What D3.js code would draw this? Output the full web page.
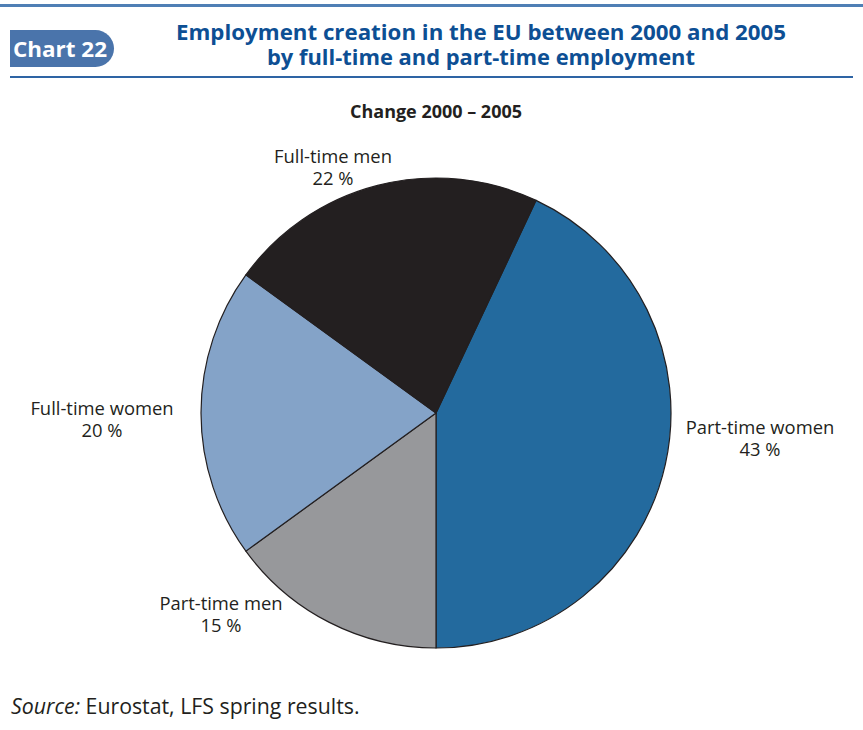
<!DOCTYPE html>
<html>
<head>
<meta charset="utf-8">
<script src="https://cdn.jsdelivr.net/npm/d3@7"></script>
<style>
  html, body { margin: 0; padding: 0; background: #fff; }
  svg { display: block; }
</style>
</head>
<body>
<svg id="chart" width="863" height="730"></svg>
<script>
// Share of employment creation, 2000–2005
const categories = ["Part-time women", "Part-time men", "Full-time women", "Full-time men"];
const values = [43, 15, 20, 22];
const colors = ["#236a9e", "#97989b", "#84a3c8", "#231f20"];

const font = "'Open Sans', 'DejaVu Sans', sans-serif";
const svg = d3.select("#chart");

// Header rules
svg.append("rect").attr("x", 0).attr("y", 4).attr("width", 863).attr("height", 3).attr("fill", "#4f7fb5");
svg.append("rect").attr("x", 10).attr("y", 76).attr("width", 843).attr("height", 2).attr("fill", "#2e64a4");

// "Chart 22" badge with rounded right end
const bx = 10, by = 30, bw = 104, bh = 37, br = 18.5;
svg.append("path")
  .attr("d", `M${bx},${by} H${bx + bw - br} A${br},${br} 0 0 1 ${bx + bw - br},${by + bh} H${bx} Z`)
  .attr("fill", "#4a74ab");
svg.append("text").attr("x", 13).attr("y", 56.5)
  .attr("font-family", font).attr("font-weight", 700).attr("font-size", 22)
  .attr("fill", "#fff").attr("textLength", 94).attr("lengthAdjust", "spacingAndGlyphs").text("Chart 22");

// Title
const title = svg.append("g").attr("text-anchor", "middle")
  .attr("font-family", font).attr("font-weight", 700).attr("font-size", 21).attr("fill", "#0d4f94");
title.append("text").attr("x", 481).attr("y", 40).attr("textLength", 610).attr("lengthAdjust", "spacingAndGlyphs")
  .text("Employment creation in the EU between 2000 and 2005");
title.append("text").attr("x", 481).attr("y", 65).attr("textLength", 428).attr("lengthAdjust", "spacingAndGlyphs")
  .text("by full-time and part-time employment");

// Subtitle
svg.append("text").attr("x", 436).attr("y", 118).attr("text-anchor", "middle")
  .attr("font-family", font).attr("font-weight", 700).attr("font-size", 17.5).attr("fill", "#231f20")
  .attr("textLength", 172).attr("lengthAdjust", "spacingAndGlyphs")
  .text("Change 2000 – 2005");

// Pie
const cx = 436, cy = 413, radius = 235;
const data = categories.map((c, i) => ({ name: c, value: values[i], color: colors[i] }));
const startDeg = 180 - 360 * values[0] / d3.sum(values);
const pie = d3.pie().value(d => d.value).sort(null)
  .startAngle(startDeg * Math.PI / 180)
  .endAngle((startDeg + 360) * Math.PI / 180);
const arc = d3.arc().innerRadius(0).outerRadius(radius);

const g = svg.append("g").attr("transform", `translate(${cx},${cy})`);
g.selectAll("path").data(pie(data)).join("path")
  .attr("d", arc)
  .attr("fill", d => d.data.color)
  .attr("stroke", "#231f20")
  .attr("stroke-width", 1.2)
  .attr("stroke-linejoin", "round");

// Slice labels placed outside the pie
const labelPos = {
  "Part-time women": [760, 434],
  "Part-time men": [221, 610],
  "Full-time women": [102, 415],
  "Full-time men": [333, 163]
};
const labels = svg.append("g").attr("font-family", font).attr("font-size", 18.4).attr("fill", "#231f20")
  .attr("text-anchor", "middle");
data.forEach(d => {
  const [x, y] = labelPos[d.name];
  const t = labels.append("text");
  t.append("tspan").attr("x", x).attr("y", y).text(d.name);
  t.append("tspan").attr("x", x).attr("y", y + 22).text(`${d.value} %`);
});

// Source note
const src = svg.append("text").attr("x", 11).attr("y", 714)
  .attr("font-family", font).attr("font-size", 21.3).attr("fill", "#231f20");
src.append("tspan").attr("font-style", "italic").text("Source:");
src.append("tspan").text(" Eurostat, LFS spring results.");
</script>
</body>
</html>
